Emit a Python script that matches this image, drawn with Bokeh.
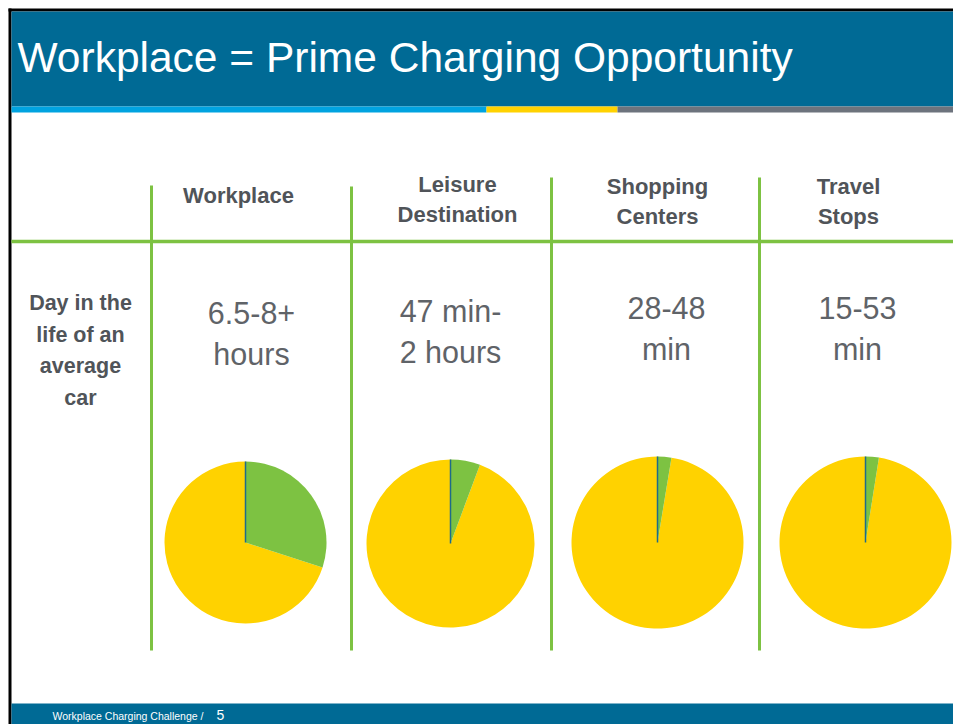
import math
from bokeh.plotting import figure
from bokeh.models import Range1d
from bokeh.core.properties import value
from bokeh.embed import file_html
from bokeh.resources import INLINE

# ---------------- data ----------------
title_text = "Workplace = Prime Charging Opportunity"
row_label = "Day in the\nlife of an\naverage\ncar"
locations = ["Workplace", "Leisure\nDestination", "Shopping\nCenters", "Travel\nStops"]
durations = ["6.5-8+\nhours", "47 min-\n2 hours", "28-48\nmin", "15-53\nmin"]
charging_share = [0.30, 0.057, 0.026, 0.025]   # share of a 24 h day spent parked there
footer_text = "Workplace Charging Challenge  /"
footer_page = "5"

# ---------------- layout / style ----------------
W, H = 953, 724
BLUE = "#006A95"
LIGHTBLUE = "#00A3E0"
YELLOW = "#FFD200"
GRAY_BAR = "#6D737D"
GREEN = "#7DC242"
TEXT_GRAY = "#505459"
VAL_GRAY = "#5F6368"
FONT = "Liberation Sans"

def fy(Y):
    """screen pixel row (from top) -> data y"""
    return H - Y

def fx(X):
    return X

p = figure(width=W, height=H, output_backend="svg", toolbar_location=None,
           x_range=Range1d(0, W), y_range=Range1d(0, H), min_border=0,
           outline_line_color=None)
p.axis.visible = False
p.grid.visible = False
p.background_fill_color = "white"
p.border_fill_color = "white"

# slide frame (left and top edges)
p.quad(left=[fx(8)], right=[fx(11)], top=[fy(8)], bottom=[0], color="black", line_width=0)
p.quad(left=[fx(8)], right=[W], top=[fy(8)], bottom=[fy(11)], color="black", line_width=0)

# title bar
p.quad(left=[fx(11)], right=[W], top=[fy(11)], bottom=[fy(106)], color=BLUE, line_width=0)
stripe_edges = [fx(11), fx(486), fx(617), W]
stripe_cols = [LIGHTBLUE, YELLOW, GRAY_BAR]
p.quad(left=stripe_edges[:-1], right=stripe_edges[1:], top=[fy(106)] * 3,
       bottom=[fy(112)] * 3, color=stripe_cols, line_width=0)
p.text(x=[fx(17)], y=[fy(57)], text=[title_text], text_color="white",
       text_font=value(FONT), text_font_size="42.5px",
       text_baseline="middle", text_align="left")

# footer bar
p.quad(left=[fx(11)], right=[W], top=[fy(703)], bottom=[0], color=BLUE, line_width=0)
p.text(x=[fx(52)], y=[fy(715)], text=[footer_text], text_color="white",
       text_font=value(FONT), text_font_size="10.5px",
       text_baseline="middle", text_align="left")
p.text(x=[fx(216)], y=[fy(714.5)], text=[footer_page], text_color="white",
       text_font=value(FONT), text_font_size="14px",
       text_baseline="middle", text_align="left")

# grid lines
col_lines = [fx(151), fx(351), fx(551), fx(759)]
line_tops = [fy(185), fy(186), fy(177), fy(177)]
p.segment(x0=col_lines, x1=col_lines, y0=line_tops, y1=[fy(650)] * 4,
          line_color=GREEN, line_width=3)
p.segment(x0=[fx(11)], x1=[W], y0=[fy(241)], y1=[fy(241)],
          line_color=GREEN, line_width=3.5)

# headers
head_x = [fx(238), fx(457), fx(657), fx(848)]
head_y = [fy(195), fy(199), fy(201), fy(201)]
p.text(x=head_x, y=head_y, text=locations, text_color=TEXT_GRAY,
       text_font=value(FONT), text_font_size="22px", text_font_style="bold",
       text_align="center", text_baseline="middle", text_line_height=1.18)

# row label
p.text(x=[fx(80)], y=[fy(350)], text=[row_label], text_color=TEXT_GRAY,
       text_font=value(FONT), text_font_size="21.5px", text_font_style="bold",
       text_align="center", text_baseline="middle", text_line_height=1.33)

# duration values
val_x = [fx(251), fx(450), fx(666), fx(857)]
val_y = [fy(333), fy(331), fy(328), fy(328)]
p.text(x=val_x, y=val_y, text=durations, text_color=VAL_GRAY,
       text_font=value(FONT), text_font_size="30.5px",
       text_align="center", text_baseline="middle", text_line_height=1.18)

# pies
pie_x = [fx(245), fx(450), fx(657), fx(865)]
pie_y = [fy(542), fy(543), fy(542), fy(542)]
pie_r = [81, 84, 86, 86]
top = math.pi / 2
green_start = [top - s * 2 * math.pi for s in charging_share]
p.wedge(x=pie_x, y=pie_y, radius=pie_r, start_angle=[top] * 4, end_angle=green_start,
        direction="anticlock", fill_color=YELLOW, line_color=None)
p.wedge(x=pie_x, y=pie_y, radius=pie_r, start_angle=green_start, end_angle=[top] * 4,
        direction="anticlock", fill_color=GREEN, line_color=None)
p.ray(x=pie_x, y=pie_y, length=pie_r, length_units="data", angle=top,
      line_color="#1E6B8A", line_width=1.5)

open("out.html", "w").write(file_html(p, INLINE))
